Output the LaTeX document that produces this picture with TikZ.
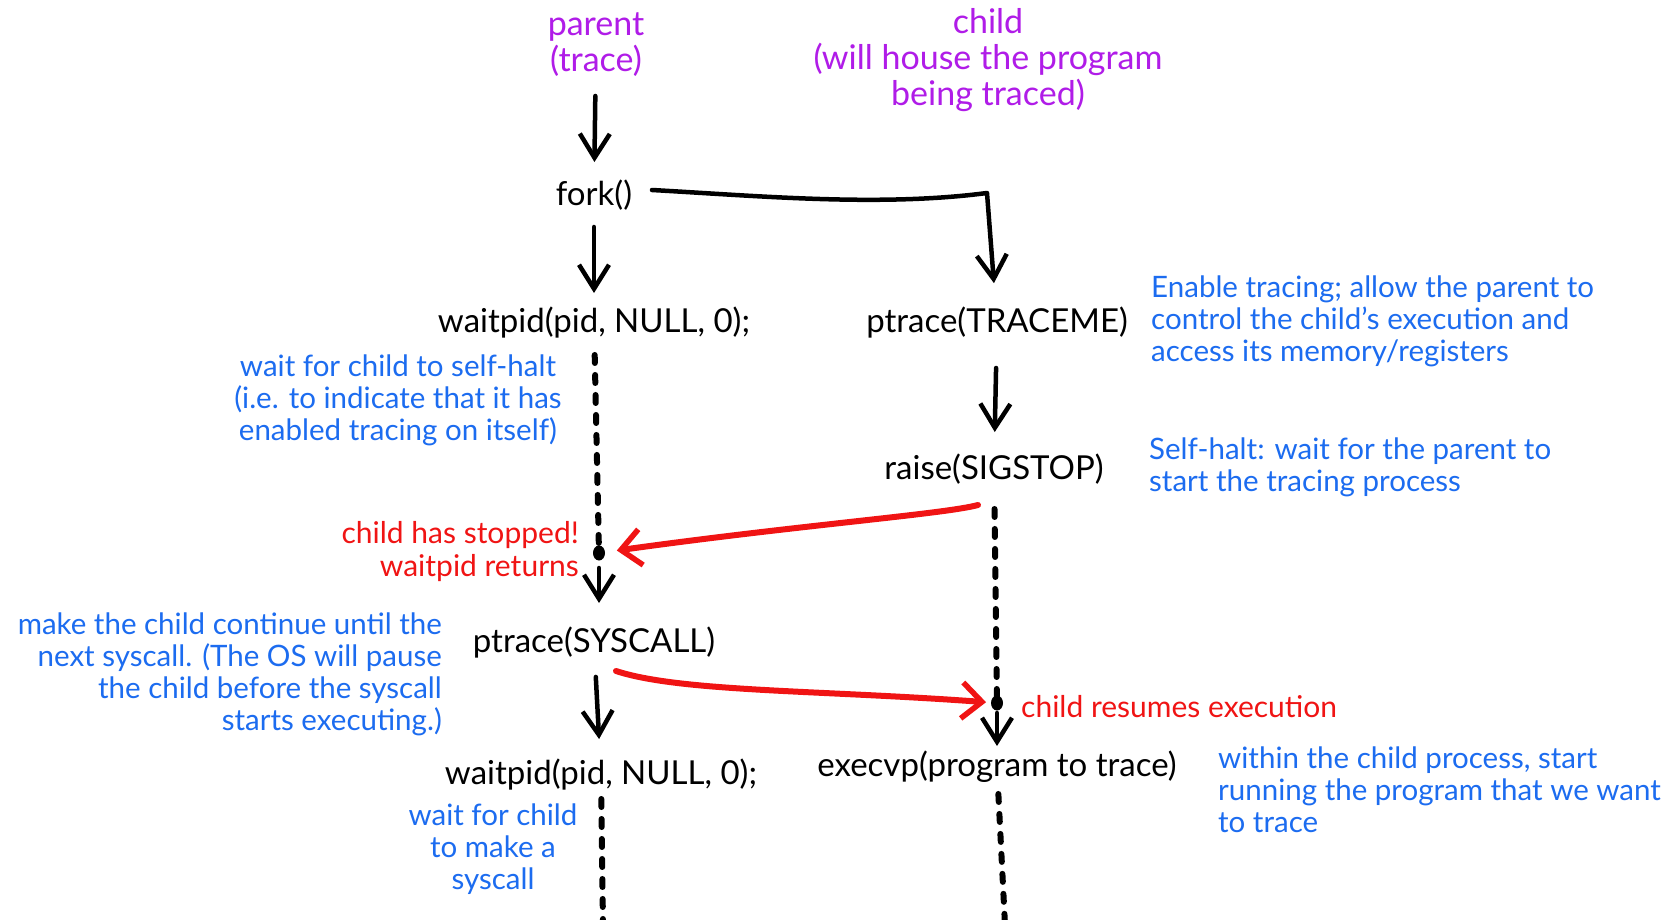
\documentclass[tikz,border=0pt]{standalone}
\usepackage{fontspec}
\setmainfont{Lato}
\usetikzlibrary{arrows.meta,calc}

\definecolor{headpurple}{HTML}{B01CE8}
\definecolor{noteblue}{HTML}{1C6CF0}
\definecolor{alertred}{HTML}{F01414}

\tikzset{
  code/.style={inner sep=0pt, text=black, font=\fontsize{33}{36}\selectfont},
  head/.style={inner sep=0pt, text=headpurple, align=center, font=\fontsize{34}{36}\selectfont},
  note/.style={inner sep=0pt, text=noteblue, font=\fontsize{29.5}{32}\selectfont},
  alert/.style={inner sep=0pt, text=alertred, font=\fontsize{30}{33}\selectfont},
  flow/.style={draw=black, line width=4.5pt, line cap=round, line join=round,
    -{Straight Barb[length=24pt,width=30pt,line width=4.5pt]}},
  wait/.style={draw=black, line width=6pt, line cap=round, dash pattern=on 8pt off 12pt},
  signal/.style={draw=alertred, line width=6pt, line cap=round, line join=round,
    -{Straight Barb[length=20pt,width=36pt,line width=5.5pt]}},
}

\begin{document}
\begin{tikzpicture}[x=1pt,y=-1pt]
\useasboundingbox[fill=white] (0,0) rectangle (1671,920);

% column headings
\node[head] (parentlbl) at (596,45) {parent\\(trace)};
\node[head] (childlbl) at (988,60) {child\\(will house the program\\being traced)};

% system calls
\node[code] (fork) at (594,195) {fork()};
\node[code] (wait1) at (594,323) {waitpid(pid, NULL, 0);};
\node[code] (traceme) at (997,323) {ptrace(TRACEME)};
\node[code] (raise) at (994,469) {raise(SIGSTOP)};
\node[code] (syscall) at (594,643) {ptrace(SYSCALL)};
\node[code] (wait2) at (601,775) {waitpid(pid, NULL, 0);};
\node[code] (execvp) at (997,767) {execvp(program to trace)};

% points where the waiting lines end
\coordinate (stop1) at (599,553);
\coordinate (resume) at (997,703);
\coordinate (forkturn) at (987,193);
\coordinate (bottom1) at (603,925);
\coordinate (bottom2) at (1005,925);

% explanations
\node[note, align=left, anchor=west] (noteTraceme) at (1151,321)
  {Enable tracing; allow the parent to\\control the child's execution and\\access its memory/registers};
\node[note, align=center] (noteWait1) at (398,400)
  {wait for child to self-halt\\(i.e. to indicate that it has\\enabled tracing on itself)};
\node[note, align=left, anchor=west] (noteRaise) at (1149,467)
  {Self-halt: wait for the parent to\\start the tracing process};
\node[note, align=right, anchor=east] (noteSyscall) at (442,674)
  {make the child continue until the\\next syscall. (The OS will pause\\the child before the syscall\\starts executing.)};
\node[note, align=left, anchor=west] (noteExec) at (1218,790)
  {within the child process, start\\running the program that we want\\to trace};
\node[note, align=center] (noteWait2) at (493,849)
  {wait for child\\to make a\\syscall};

\node[alert, align=right, anchor=east] (stopped) at (579,552)
  {child has stopped!\\waitpid returns};
\node[alert, anchor=west] (resumes) at (1021,707) {child resumes execution};

% control flow
\draw[flow, shorten <=51pt, shorten >=33pt] (parentlbl.center) -- (fork.center);
\draw[flow, shorten <=32pt, shorten >=30pt] (fork.center) -- (wait1.center);
\draw[flow, shorten >=40pt] ([xshift=58pt,yshift=5pt]fork.center)
  .. controls (760,196) and (880,207) .. (forkturn) -- (traceme.center);
\draw[flow, shorten <=45pt, shorten >=37pt] (traceme.center) -- (raise.center);
\draw[flow, shorten <=15pt, shorten >=40pt] (stop1) -- (stop1 |- syscall.center);
\draw[flow, shorten <=34pt, shorten >=36pt] (syscall.center) -- (wait2.center);
\draw[flow, shorten <=10pt, shorten >=21pt] (resume) -- (execvp.center);

% waiting periods
\draw[wait, shorten <=32pt] (wait1.center) -- (stop1);
\draw[wait, shorten <=40pt] (raise.center) -- (resume);
\draw[wait, shorten <=24pt] (wait2.center) -- (bottom1);
\draw[wait, shorten <=27pt] (execvp.center) -- (bottom2);
\fill (stop1) ellipse (6pt and 7.5pt);
\fill (resume) ellipse (6pt and 7.5pt);

% signals between the processes
\draw[signal, shorten >=18pt] ([xshift=-16pt,yshift=-36pt]raise.center)
  .. controls (945,514) and (800,525) .. (stop1);
\draw[signal, shorten >=11pt] ([xshift=22pt,yshift=-28pt]syscall.center)
  .. controls (680,692) and (820,690) .. (resume);
\end{tikzpicture}
\end{document}
